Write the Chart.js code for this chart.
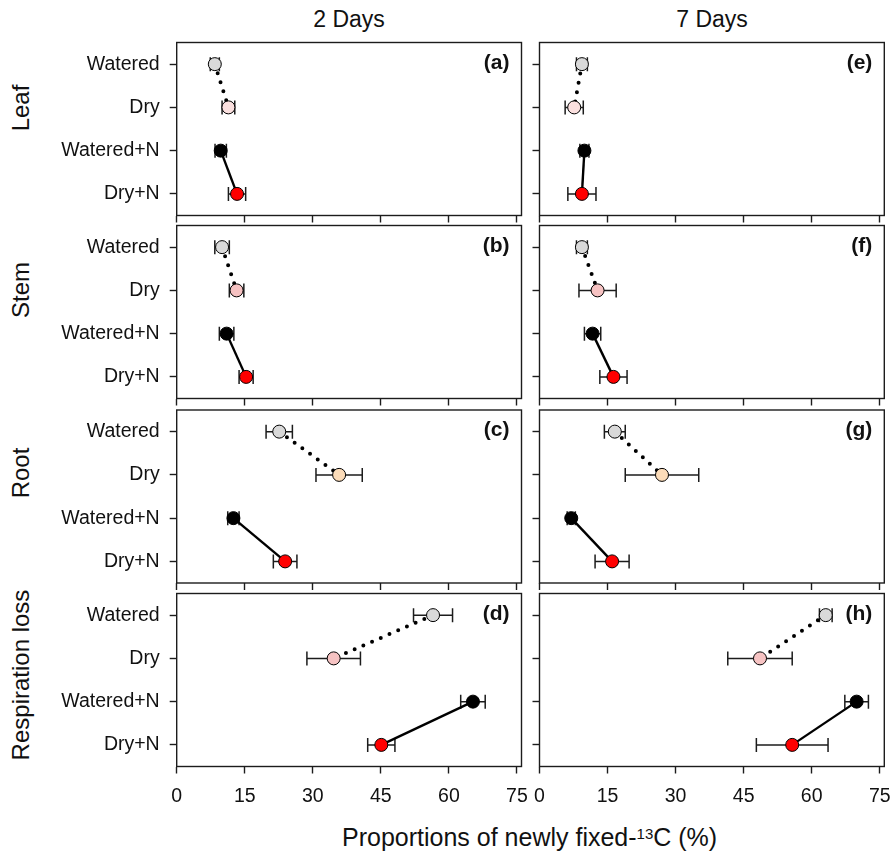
<!DOCTYPE html>
<html>
<head>
<meta charset="utf-8">
<script src="https://cdn.jsdelivr.net/npm/chart.js@4.4.1/dist/chart.umd.min.js"></script>
<style>
  html, body { margin: 0; padding: 0; background: #fff; overflow: hidden; }
  #stage { position: relative; width: 891px; height: 858px; overflow: hidden;
           font-family: 'Liberation Sans', Arial, sans-serif; color: #111; }
  #stage canvas { position: absolute; left: 0; top: 0; }
  .txt { position: absolute; white-space: nowrap; line-height: 1; }
  .ctr { transform: translate(-50%, -50%); }
  .rot { transform: translate(-50%, -50%) rotate(-90deg); }
  .sup { position: relative; top: -7px; font-size: 15px; }
</style>
</head>
<body>
<div id="stage">
  <div class="txt ctr" style="left:349px; top:19px; font-size:23px;">2 Days</div>
  <div class="txt ctr" style="left:712px; top:19px; font-size:23px;">7 Days</div>
  <div class="txt rot" style="left:21px; top:108px; font-size:24px;">Leaf</div>
  <div class="txt rot" style="left:21px; top:290px; font-size:24px;">Stem</div>
  <div class="txt rot" style="left:21px; top:473px; font-size:24px;">Root</div>
  <div class="txt rot" style="left:21px; top:675px; font-size:24px;">Respiration loss</div>
  <div class="txt" style="left:342px; top:825px; font-size:25px;">Proportions of newly fixed-<span class="sup">13</span>C (%)</div>
</div>
<script>
/* Treatments, top to bottom in every panel */
const CATEGORIES = ['Watered', 'Dry', 'Watered+N', 'Dry+N'];
const X_TICKS = [0, 15, 30, 45, 60, 75];
const PANEL_TAGS = ['(a)', '(b)', '(c)', '(d)', '(e)', '(f)', '(g)', '(h)'];

/* Mean share of newly fixed 13C (%) and standard errors, 2 days after labelling */
const LEAF_2D = [8.4, 11.4, 9.7, 13.3];
const LEAF_2D_SE = [1.0, 1.4, 1.25, 1.9];
const STEM_2D = [10.0, 13.2, 11.0, 15.3];
const STEM_2D_SE = [1.6, 1.6, 1.6, 1.55];
const ROOT_2D = [22.6, 35.8, 12.5, 23.9];
const ROOT_2D_SE = [2.9, 5.1, 1.25, 2.6];
const RESP_2D = [56.5, 34.6, 65.3, 45.1];
const RESP_2D_SE = [4.3, 5.9, 2.7, 3.0];

/* Same, 7 days after labelling */
const LEAF_7D = [9.35, 7.65, 9.9, 9.35];
const LEAF_7D_SE = [1.2, 2.0, 1.0, 3.1];
const STEM_7D = [9.35, 12.8, 11.7, 16.3];
const STEM_7D_SE = [1.2, 4.1, 1.8, 3.0];
const ROOT_7D = [16.6, 27.0, 7.0, 16.0];
const ROOT_7D_SE = [2.3, 8.1, 0.9, 3.75];
const RESP_7D = [63.1, 48.6, 69.9, 55.7];
const RESP_7D_SE = [1.4, 7.1, 2.6, 7.9];

/* Fill colours: watered grey, dry tint per organ, +N black and red */
const WATERED_FILL = '#d9d9d9';
const DRY_FILLS = ['#fbe0df', '#f6c2c2', '#fcdcb9', '#f6c3c3'];
const WATERED_N_FILL = '#000000';
const DRY_N_FILL = '#ff0000';

/* Panel grid in page pixels */
const COL_LEFT = [176.7, 539.5];
const COL_WIDTH = 344.8;
const ROW_TOP = [42.5, 225.5, 410, 593.5];
const ROW_HEIGHT = 173;
const CANVAS_W = 960, CANVAS_H = 900;
const AXIS_W = [150, 30];
const AXIS_H = 60;
const INK = '#1c1c1c';

const PANELS = [
  [LEAF_2D, LEAF_2D_SE], [STEM_2D, STEM_2D_SE], [ROOT_2D, ROOT_2D_SE], [RESP_2D, RESP_2D_SE],
  [LEAF_7D, LEAF_7D_SE], [STEM_7D, STEM_7D_SE], [ROOT_7D, ROOT_7D_SE], [RESP_7D, RESP_7D_SE]
];

/* Horizontal error bars with end caps, drawn under the markers */
const errorBars = {
  id: 'errorBars',
  beforeDatasetsDraw(chart) {
    const ds = chart.data.datasets[0];
    const xs = chart.scales.x, ys = chart.scales.y;
    const ctx = chart.ctx;
    ctx.save();
    ctx.strokeStyle = INK;
    ctx.lineWidth = 1.5;
    ds.data.forEach(function(p, i) {
      const e = ds.errors[i];
      const x1 = xs.getPixelForValue(p.x - e);
      const x2 = xs.getPixelForValue(p.x + e);
      const y = ys.getPixelForValue(p.y);
      ctx.beginPath();
      ctx.moveTo(x1, y); ctx.lineTo(x2, y);
      ctx.moveTo(x1, y - 7); ctx.lineTo(x1, y + 7);
      ctx.moveTo(x2, y - 7); ctx.lineTo(x2, y + 7);
      ctx.stroke();
    });
    ctx.restore();
  }
};

/* Frame around the plot area and the bold panel letter */
const panelFrame = {
  id: 'panelFrame',
  afterDraw(chart, args, opts) {
    const a = chart.chartArea;
    const ctx = chart.ctx;
    ctx.save();
    ctx.strokeStyle = INK;
    ctx.lineWidth = 1.4;
    ctx.strokeRect(a.left, a.top, a.right - a.left, a.bottom - a.top);
    ctx.fillStyle = '#111';
    ctx.font = "bold 21px 'Liberation Sans', Arial, sans-serif";
    ctx.textAlign = 'right';
    ctx.textBaseline = 'alphabetic';
    ctx.fillText(opts.tag, a.right - 12, a.top + 26);
    ctx.restore();
  }
};

function makePanel(col, row) {
  const idx = col * 4 + row;
  const means = PANELS[idx][0];
  const errs = PANELS[idx][1];
  const showY = col === 0;
  const showX = row === 3;

  const canvas = document.createElement('canvas');
  canvas.width = CANVAS_W;
  canvas.height = CANVAS_H;
  canvas.style.width = CANVAS_W + 'px';
  canvas.style.height = CANVAS_H + 'px';
  document.getElementById('stage').appendChild(canvas);

  const left = COL_LEFT[col];
  const top = ROW_TOP[row];
  const points = means.map(function(v, i) { return { x: v, y: i + 1 }; });

  new Chart(canvas, {
    type: 'scatter',
    data: {
      datasets: [
        {
          data: points,
          errors: errs,
          pointRadius: 6.5,
          pointHoverRadius: 6.5,
          pointBackgroundColor: [WATERED_FILL, DRY_FILLS[row], WATERED_N_FILL, DRY_N_FILL],
          pointBorderColor: '#000',
          pointBorderWidth: 1,
          order: 0
        },
        {
          data: points.slice(0, 2),
          showLine: true,
          borderColor: '#000',
          borderWidth: 4,
          borderDash: [0, 9.5],
          borderCapStyle: 'round',
          pointRadius: 0,
          order: 1
        },
        {
          data: points.slice(2, 4),
          showLine: true,
          borderColor: '#000',
          borderWidth: 2.4,
          pointRadius: 0,
          order: 2
        }
      ]
    },
    options: {
      responsive: false,
      animation: false,
      events: [],
      layout: {
        padding: {
          left: left - AXIS_W[col],
          right: CANVAS_W - (left + COL_WIDTH),
          top: top,
          bottom: CANVAS_H - (top + ROW_HEIGHT) - AXIS_H
        }
      },
      plugins: {
        legend: { display: false },
        tooltip: { enabled: false },
        panelFrame: { tag: PANEL_TAGS[idx] }
      },
      scales: {
        x: {
          type: 'linear',
          min: 0,
          max: 76,
          afterBuildTicks: function(s) { s.ticks = X_TICKS.map(function(v) { return { value: v }; }); },
          afterFit: function(s) { s.height = AXIS_H; },
          border: { display: false },
          grid: { drawOnChartArea: false, drawTicks: true, tickLength: 7, tickWidth: 1.4, tickColor: INK },
          ticks: {
            autoSkip: false,
            maxRotation: 0,
            padding: 11,
            color: '#111',
            font: { family: "'Liberation Sans', Arial, sans-serif", size: 19.5 },
            callback: function(v) { return showX ? String(v) : ''; }
          }
        },
        y: {
          type: 'linear',
          min: 0.5,
          max: 4.5,
          reverse: true,
          afterBuildTicks: function(s) { s.ticks = [1, 2, 3, 4].map(function(v) { return { value: v }; }); },
          afterFit: function(s) { s.width = AXIS_W[col]; },
          border: { display: false },
          grid: { drawOnChartArea: false, drawTicks: true, tickLength: 7, tickWidth: 1.4, tickColor: INK },
          ticks: {
            padding: 10,
            color: '#111',
            font: { family: "'Liberation Sans', Arial, sans-serif", size: 19.5 },
            callback: function(v) { return showY ? CATEGORIES[v - 1] : ''; }
          }
        }
      }
    },
    plugins: [errorBars, panelFrame]
  });
}

for (let c = 0; c < 2; c++) {
  for (let r = 0; r < 4; r++) makePanel(c, r);
}
</script>
</body>
</html>
